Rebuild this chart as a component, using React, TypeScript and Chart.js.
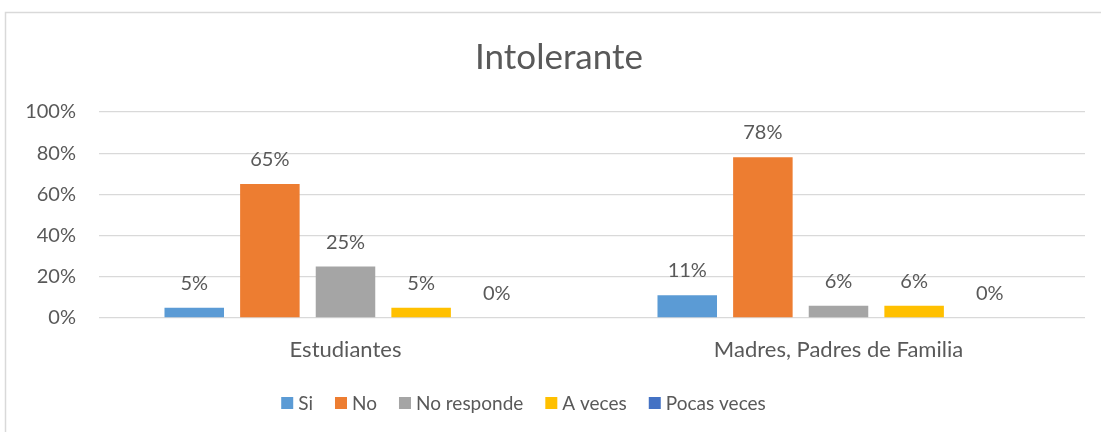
import React, { useEffect, useRef } from "react";
import { Chart, registerables } from "chart.js";

Chart.register(...registerables);

const TITLE = "Intolerante";
const categories = ["Estudiantes", "Madres, Padres de Familia"];
const seriesNames = ["Si", "No", "No responde", "A veces", "Pocas veces"];
const seriesColors = ["#5B9BD5", "#ED7D31", "#A5A5A5", "#FFC000", "#4472C4"];
const siValues = [0.05, 0.11];
const noValues = [0.65, 0.78];
const noRespondeValues = [0.25, 0.06];
const aVecesValues = [0.05, 0.06];
const pocasVecesValues = [0, 0];
const yTicks = [0, 0.2, 0.4, 0.6, 0.8, 1.0];

const FONT = "Lato";
const TEXT = "#595959";
const GRID = "#D9D9D9";

const pct = (v: number) => `${Math.round(v * 100)}%`;

const decorPlugin = {
  id: "decor",
  beforeDraw(chart: any) {
    const ctx = chart.ctx;
    ctx.save();
    ctx.fillStyle = "#FFFFFF";
    ctx.fillRect(0, 0, chart.width, chart.height);
    ctx.strokeStyle = GRID;
    ctx.lineWidth = 1.5;
    ctx.strokeRect(5.5, 12.5, chart.width + 10, chart.height + 10);
    // title
    ctx.fillStyle = TEXT;
    ctx.font = `35px ${FONT}`;
    ctx.textAlign = "center";
    ctx.textBaseline = "alphabetic";
    ctx.fillText(TITLE, 559, 69);
    ctx.restore();
  },
  afterDatasetsDraw(chart: any) {
    const ctx = chart.ctx;
    ctx.save();
    ctx.fillStyle = TEXT;
    ctx.font = `20px ${FONT}`;
    ctx.textAlign = "center";
    ctx.textBaseline = "alphabetic";
    chart.data.datasets.forEach((ds: any, di: number) => {
      const meta = chart.getDatasetMeta(di);
      meta.data.forEach((bar: any, i: number) => {
        ctx.fillText(pct(ds.data[i]), bar.x, bar.y - 18);
      });
    });
    // legend
    ctx.font = `19px ${FONT}`;
    ctx.textAlign = "left";
    ctx.textBaseline = "middle";
    const box = 12, boxGap = 5, itemGap = 22;
    const widths = chart.data.datasets.map(
      (ds: any) => box + boxGap + ctx.measureText(ds.label).width
    );
    const total = widths.reduce((a: number, b: number) => a + b, 0) + itemGap * (widths.length - 1);
    let x = 523.5 - total / 2;
    const cy = 403;
    chart.data.datasets.forEach((ds: any, di: number) => {
      ctx.fillStyle = ds.backgroundColor;
      ctx.fillRect(x, cy - box / 2, box, box);
      ctx.fillStyle = TEXT;
      ctx.fillText(ds.label, x + box + boxGap, cy + 1);
      x += widths[di] + itemGap;
    });
    ctx.restore();
  },
};

export default function App() {
  const ref = useRef<HTMLCanvasElement | null>(null);
  useEffect(() => {
    if (!ref.current) return;
    const allValues = [siValues, noValues, noRespondeValues, aVecesValues, pocasVecesValues];
    const chart = new Chart(ref.current, {
      type: "bar",
      data: {
        labels: categories,
        datasets: seriesNames.map((name, i) => ({
          label: name,
          data: allValues[i],
          backgroundColor: seriesColors[i],
          borderWidth: 0,
          categoryPercentage: 0.767,
          barPercentage: 0.787,
        })),
      },
      options: {
        animation: false,
        responsive: false,
        maintainAspectRatio: false,
        layout: { padding: { top: 112, right: 16, bottom: 0, left: 0 } },
        plugins: {
          legend: { display: false },
          title: { display: false },
          tooltip: { enabled: false },
        },
        scales: {
          x: {
            grid: { display: false, drawTicks: false },
            border: { display: false },
            ticks: {
              color: TEXT,
              font: { family: FONT, size: 22 },
              padding: 19,
            },
            afterFit: (s: any) => {
              s.height = 114;
            },
          },
          y: {
            min: 0,
            max: 1,
            afterBuildTicks: (s: any) => {
              s.ticks = yTicks.map((v) => ({ value: v }));
            },
            grid: { color: GRID, lineWidth: 1.3, drawTicks: false },
            border: { display: false },
            ticks: {
              color: TEXT,
              font: { family: FONT, size: 20 },
              padding: 23,
              callback: (v: any) => pct(Number(v)),
            },
            afterFit: (s: any) => {
              s.width = 99;
            },
          },
        },
      },
      plugins: [decorPlugin],
    });
    return () => chart.destroy();
  }, []);
  return (
    <div style={{ position: "absolute", left: 0, top: 0, width: 1101, height: 432 }}>
      <canvas ref={ref} width={1101} height={432} style={{ display: "block" }} />
    </div>
  );
}
